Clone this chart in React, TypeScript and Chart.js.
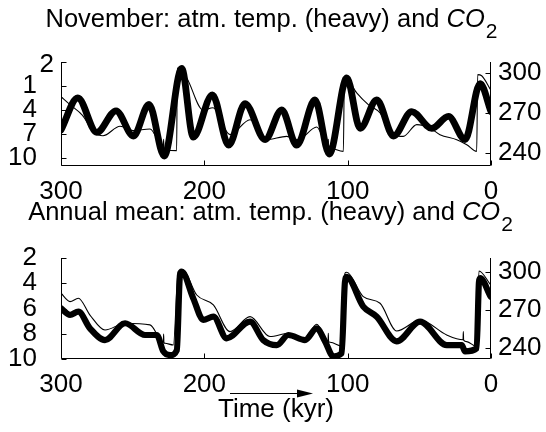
import React, { useEffect, useRef } from 'react';
import { Chart, registerables } from 'chart.js';
Chart.register(...registerables);

const FONT = '"Liberation Sans", Arial, Helvetica, sans-serif';

// ---- shared time axis (kyr, reversed) ----
const timeTicks = [300, 200, 100, 0];
const timeTickLabels = ['300', '200', '100', '0'];

// ---- November panel ----
const novTempTicks = [-2, 1, 4, 7, 10];
const novTempTickLabels = ['', '1', '4', '7', '10'];
const novCo2Ticks = [240, 270, 300];
const novCo2TickLabels = ['240', '270', '300'];

const novTempTime = [300, 288.3, 275, 261.6, 249.5, 238.6, 228, 215.8, 207.7, 194.4, 183, 171.6, 157.6, 146, 135.5, 122.8, 112.8, 100.6, 91.3, 79.7, 68, 55.3, 41.3, 29.7, 18.1, 7.6, 0];
const novTemp = [6.5, 2.5, 6.8, 4.1, 7.25, 3.3, 9.75, -1.2, 7.4, 2.1, 8.4, 3.2, 7.7, 4.0, 8.4, 2.75, 9.5, 0.0, 6.3, 2.75, 7.25, 4.2, 6.3, 4.8, 7.7, 0.7, 4.2];

const novCo2Time = [300, 293.7, 285, 277.5, 270.7, 258.8, 249.8, 237.9, 228.6, 228.4, 228.2, 227.4, 219.3, 218.9, 212.3, 200.9, 193.9, 182.1, 168.1, 156.5, 142.5, 134.6, 121.6, 113.7, 113.5, 113.3, 112.3, 103, 102.3, 93.7, 85.6, 77.4, 68.2, 61.2, 51.8, 42.6, 35.6, 23.9, 16.9, 9.97, 9.3, 6.5, 0.2];
const novCo2 = [282, 276, 268, 256, 252.7, 259.8, 256.5, 257.8, 243.5, 250, 243, 242, 241.5, 303.5, 296, 272, 273.7, 253.5, 264.7, 249.7, 252.2, 249.7, 259.3, 244.5, 250, 244, 243.5, 241, 297.3, 284.8, 276, 269.8, 253.5, 252.2, 261, 258.5, 253.5, 249.7, 246, 241, 298.5, 297.7, 287];

// ---- Annual mean panel ----
const annTempTicks = [2, 4, 6, 8, 10];
const annTempTickLabels = ['2', '4', '6', '8', '10'];
const annCo2Ticks = [240, 270, 300];
const annCo2TickLabels = ['240', '270', '300'];

const annTempTime = [300, 293.7, 287.9, 279.8, 269.3, 255.3, 241.4, 233.2, 228.6, 223.9, 219.2, 217, 215.8, 207.7, 200.7, 193.7, 184.4, 168.1, 158.9, 149.5, 141.4, 129.8, 121.6, 115.8, 110, 104.2, 101.9, 100.7, 89.1, 79.7, 65.8, 49.5, 30.9, 20.4, 18.1, 10, 8.4, 7.6, 0.2];
const annTemp = [5.98, 6.5, 6.25, 7.57, 8.5, 7.17, 8.1, 8.1, 9.4, 9.7, 9.3, 3.35, 3.08, 5.2, 6.9, 6.65, 8.36, 7.04, 8.5, 8.9, 8.1, 8.5, 7.57, 8.6, 9.8, 9.55, 3.9, 3.5, 5.85, 6.65, 8.6, 7.04, 8.9, 8.9, 9.4, 9.15, 3.9, 3.6, 5.07];

const annCo2Time = [300, 293.7, 287.9, 279.8, 269.3, 255.3, 237.9, 228.6, 228.4, 228.2, 227.4, 221.6, 218.2, 215.1, 205.3, 193.7, 182.1, 168.1, 154.2, 141.4, 129.8, 121.6, 113.7, 113.5, 113.3, 112.3, 103, 101.9, 100.7, 89.1, 77.4, 65.8, 49.5, 30.9, 19.5, 19.3, 19.1, 16.9, 10, 8.4, 0.2];
const annCo2 = [283.2, 276.6, 279.2, 266, 254.2, 259.5, 258.2, 244.5, 251, 244.2, 243.7, 242.4, 300.2, 301.6, 281.8, 274, 252.9, 264.7, 249, 251.6, 247.7, 258.7, 245.5, 251.5, 245, 244.5, 241, 299, 299.8, 280.5, 275.3, 253.4, 262, 250.3, 246.5, 253, 246.2, 245, 241, 300.8, 289.7];

const zip = (xs: number[], ys: number[]) => xs.map((x, i) => ({ x, y: ys[i] }));

const labelFor = (vals: number[], labels: string[]) => (v: any) => {
  const i = vals.indexOf(Number(v));
  return i >= 0 ? labels[i] : '';
};
const buildFixed = (vals: number[]) => (s: any) => { s.ticks = vals.map((v) => ({ value: v })); };

const TITLE_PX = 25.5;
const SUB_PX = 21;
const TICK_PX = 26;

function titlePlugin(main: string, cx: number, baseline: number) {
  return {
    id: 'subTitle',
    afterDraw(chart: any) {
      const ctx = chart.ctx;
      ctx.save();
      ctx.fillStyle = '#000';
      ctx.textBaseline = 'alphabetic';
      ctx.textAlign = 'left';
      ctx.font = `${TITLE_PX}px ${FONT}`;
      const w1 = ctx.measureText(main).width;
      ctx.font = `italic ${TITLE_PX}px ${FONT}`;
      const w2 = ctx.measureText('CO').width;
      ctx.font = `${SUB_PX}px ${FONT}`;
      const w3 = ctx.measureText('2').width;
      let x = cx - (w1 + w2 + w3) / 2;
      ctx.font = `${TITLE_PX}px ${FONT}`;
      ctx.fillText(main, x, baseline);
      x += w1;
      ctx.font = `italic ${TITLE_PX}px ${FONT}`;
      ctx.fillText('CO', x, baseline);
      x += w2 + 1;
      ctx.font = `${SUB_PX}px ${FONT}`;
      ctx.fillText('2', x, baseline + 11);
      ctx.restore();
    },
  };
}

const axesPlugin = {
  id: 'axesInward',
  afterDraw(chart: any) {
    const { ctx, chartArea: a, scales } = chart;
    ctx.save();
    ctx.strokeStyle = '#000';
    ctx.lineWidth = 1;
    ctx.beginPath();
    const L = 5;
    const l = Math.round(a.left) + 0.5;
    const r = Math.round(a.right) - 0.5;
    const b = Math.round(a.bottom) - 0.5;
    const t = Math.round(a.top);
    ctx.moveTo(l, t); ctx.lineTo(l, b); ctx.lineTo(r, b); ctx.lineTo(r, t);
    scales.x.ticks.forEach((tk: any) => {
      const p = Math.round(scales.x.getPixelForValue(tk.value)) + 0.5;
      ctx.moveTo(p, b); ctx.lineTo(p, b - L);
    });
    scales.yL.ticks.forEach((tk: any) => {
      const p = Math.round(scales.yL.getPixelForValue(tk.value)) + 0.5;
      ctx.moveTo(l, p); ctx.lineTo(l + L, p);
    });
    scales.yR.ticks.forEach((tk: any) => {
      const p = Math.round(scales.yR.getPixelForValue(tk.value)) + 0.5;
      ctx.moveTo(r, p); ctx.lineTo(r - L, p);
    });
    ctx.stroke();
    ctx.restore();
  },
};

const topLabelPlugin = {
  id: 'topLabel',
  afterDraw(chart: any) {
    const ctx = chart.ctx;
    ctx.save();
    ctx.fillStyle = '#000';
    ctx.font = `${TICK_PX}px ${FONT}`;
    ctx.textAlign = 'right';
    ctx.textBaseline = 'middle';
    ctx.fillText('2', 54, 65);
    ctx.restore();
  },
};

const arrowPlugin = {
  id: 'timeArrow',
  afterDraw(chart: any) {
    const ctx = chart.ctx;
    const y = 193.5;
    ctx.save();
    ctx.strokeStyle = '#000';
    ctx.fillStyle = '#000';
    ctx.lineWidth = 1.2;
    ctx.beginPath();
    ctx.moveTo(230, y); ctx.lineTo(300, y);
    ctx.stroke();
    ctx.beginPath();
    ctx.moveTo(313, y); ctx.lineTo(297, y - 4); ctx.lineTo(297, y + 4); ctx.closePath();
    ctx.fill();
    ctx.restore();
  },
};

function makeConfig(p: any): any {
  const tickFont = { family: FONT, size: TICK_PX };
  const yFit = (w: number) => (s: any) => { s.width = w; s.paddingTop = 0; s.paddingBottom = 0; };
  return {
    type: 'line',
    data: {
      datasets: [
        {
          data: zip(p.tempTime, p.temp), yAxisID: 'yL', borderColor: '#000', borderWidth: p.thick,
          pointRadius: 0, cubicInterpolationMode: 'monotone', borderCapStyle: 'round', borderJoinStyle: 'round', fill: false,
        },
        {
          data: zip(p.co2Time, p.co2), yAxisID: 'yR', borderColor: '#000', borderWidth: 1.1,
          pointRadius: 0, cubicInterpolationMode: 'monotone', fill: false,
        },
      ],
    },
    options: {
      animation: false,
      responsive: false,
      maintainAspectRatio: false,
      events: [],
      layout: { padding: { top: p.top, left: 0, right: 0, bottom: 0 } },
      plugins: { legend: { display: false }, tooltip: { enabled: false }, title: { display: false } },
      scales: {
        x: {
          type: 'linear', min: 0, max: 300, reverse: true,
          grid: { display: false, drawTicks: false }, border: { display: false },
          ticks: { font: tickFont, color: '#000', padding: p.xPad, maxRotation: 0, autoSkip: false, callback: labelFor(timeTicks, timeTickLabels) },
          afterBuildTicks: buildFixed(timeTicks),
          afterFit: (s: any) => { s.height = p.xHeight; s.paddingLeft = 0; s.paddingRight = 0; },
          title: p.xTitle ? { display: true, text: p.xTitle, font: { family: FONT, size: TICK_PX }, color: '#000', padding: { top: 0, bottom: p.xTitlePad } } : { display: false },
        },
        yL: {
          type: 'linear', position: 'left', min: p.lMin, max: p.lMax, reverse: true,
          grid: { display: false, drawTicks: false }, border: { display: false },
          ticks: { font: tickFont, color: '#000', padding: 24, autoSkip: false, callback: labelFor(p.lTicks, p.lLabels) },
          afterBuildTicks: buildFixed(p.lTicks),
          afterFit: yFit(61),
        },
        yR: {
          type: 'linear', position: 'right', min: p.rMin, max: p.rMax,
          grid: { display: false, drawTicks: false }, border: { display: false },
          ticks: { font: tickFont, color: '#000', padding: 7, autoSkip: false, callback: labelFor(p.rTicks, p.rLabels) },
          afterBuildTicks: buildFixed(p.rTicks),
          afterFit: yFit(55),
        },
      },
    },
    plugins: p.plugins,
  };
}

export default function App() {
  const topRef = useRef<HTMLCanvasElement>(null);
  const botRef = useRef<HTMLCanvasElement>(null);

  useEffect(() => {
    const c1 = new Chart(topRef.current as HTMLCanvasElement, makeConfig({
      tempTime: novTempTime, temp: novTemp, co2Time: novCo2Time, co2: novCo2, thick: 6.8,
      top: 62, xHeight: 39, xPad: 10,
      lMin: -2, lMax: 11, lTicks: novTempTicks, lLabels: novTempTickLabels,
      rMin: 230, rMax: 308, rTicks: novCo2Ticks, rLabels: novCo2TickLabels,
      plugins: [axesPlugin, topLabelPlugin, titlePlugin('November: atm. temp. (heavy) and ', 271, 27)],
    }));
    const c2 = new Chart(botRef.current as HTMLCanvasElement, makeConfig({
      tempTime: annTempTime, temp: annTemp, co2Time: annCo2Time, co2: annCo2, thick: 6.2,
      top: 58, xHeight: 73, xPad: 10, xTitle: 'Time (kyr)', xTitlePad: 7,
      lMin: 2, lMax: 10, lTicks: annTempTicks, lLabels: annTempTickLabels,
      rMin: 231.3, rMax: 311, rTicks: annCo2Ticks, rLabels: annCo2TickLabels,
      plugins: [axesPlugin, arrowPlugin, titlePlugin('Annual mean: atm. temp. (heavy) and ', 270, 20)],
    }));
    return () => { c1.destroy(); c2.destroy(); };
  }, []);

  return (
    <div style={{ position: 'absolute', left: 0, top: 0, width: 546, height: 432, background: '#fff' }}>
      <canvas ref={topRef} width={546} height={205} style={{ position: 'absolute', left: 0, top: 0, width: 546, height: 205 }} />
      <canvas ref={botRef} width={546} height={232} style={{ position: 'absolute', left: 0, top: 200, width: 546, height: 232 }} />
    </div>
  );
}
